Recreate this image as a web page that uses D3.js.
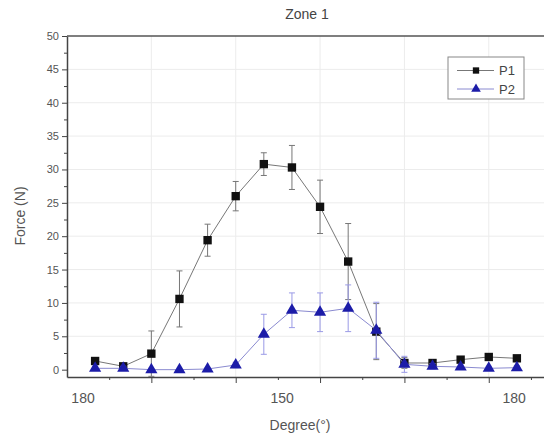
<!DOCTYPE html>
<html>
<head>
<meta charset="utf-8">
<script src="https://cdn.jsdelivr.net/npm/d3@7"></script>
<style>
  body { margin: 0; background: #fff; }
  text { font-family: "Liberation Sans", Arial, sans-serif; }
</style>
</head>
<body>
<div id="chart"></div>
<script>
// Point positions along the sweep (index 0..15)
const positions = d3.range(16);

// P1 mean force and error
const p1Values = [1.3, 0.5, 2.4, 10.6, 19.4, 26.0, 30.8, 30.3, 24.4, 16.2, 5.7, 1.0, 1.0, 1.5, 1.9, 1.7];
const p1Errors = [0.5, 0.3, 3.4, 4.2, 2.4, 2.2, 1.7, 3.3, 4.0, 5.7, 4.2, 0.8, 0.3, 0.3, 0.3, 0.3];

// P2 mean force and error
const p2Values = [0.2, 0.2, 0.0, 0.0, 0.1, 0.7, 5.3, 8.9, 8.6, 9.2, 5.9, 0.8, 0.5, 0.4, 0.2, 0.3];
const p2Errors = [0.3, 0.3, 0.2, 0.2, 0.2, 0.4, 3.0, 2.6, 2.9, 3.5, 4.2, 1.2, 0.4, 0.3, 0.3, 0.3];

// Axis ticks and labels
const xMajorTicks = [2, 5, 8, 11, 14];
const xMinorTicks = [0.5, 3.5, 6.5, 9.5, 12.5, 15.5];
const xLabels = [[-0.43, "180"], [6.65, "150"], [14.9, "180"]];
const yMajorTicks = d3.range(0, 51, 5);
const yMinorTicks = d3.range(2.5, 50, 5);

const width = 544, height = 436;

const svg = d3.select("#chart")
  .append("svg")
  .attr("width", width)
  .attr("height", height);

// Scales
const x = d3.scaleLinear().domain([-1, 16]).range([67, 545]);
const y = d3.scaleLinear().domain([-1.1, 50]).range([377, 36]);

// Grid lines
svg.selectAll(".hgrid")
  .data(yMajorTicks.filter(d => d > 0 && d < 50))
  .join("line")
  .attr("x1", x(-1)).attr("x2", width)
  .attr("y1", d => y(d)).attr("y2", d => y(d))
  .attr("stroke", "#ececec").attr("stroke-width", 1);

svg.selectAll(".vgrid")
  .data(xMajorTicks)
  .join("line")
  .attr("x1", d => x(d)).attr("x2", d => x(d))
  .attr("y1", y(50)).attr("y2", y(-1.1))
  .attr("stroke", "#ececec").attr("stroke-width", 1);

// Y axis with major ticks outward
const yAxis = svg.append("g")
  .attr("transform", `translate(${x(-1)},0)`)
  .call(d3.axisLeft(y).tickValues(yMajorTicks).tickSize(5).tickPadding(3).tickSizeOuter(0));
yAxis.select(".domain").attr("stroke", "#444").attr("stroke-width", 1.5);
yAxis.selectAll(".tick line").attr("stroke", "#444");
yAxis.selectAll("text").attr("fill", "#555").style("font-size", "11px");

svg.append("g")
  .attr("transform", `translate(${x(-1)},0)`)
  .call(d3.axisLeft(y).tickValues(yMinorTicks).tickSize(3).tickFormat(""))
  .call(g => g.select(".domain").remove())
  .selectAll(".tick line").attr("stroke", "#444");

// X axis
const xAxis = svg.append("g")
  .attr("transform", `translate(0,${y(-1.1)})`)
  .call(d3.axisBottom(x).tickValues(xMajorTicks).tickSize(6).tickFormat("").tickSizeOuter(0));
xAxis.select(".domain").attr("stroke", "#444").attr("stroke-width", 1.5);
xAxis.selectAll(".tick line").attr("stroke", "#444");

svg.append("g")
  .attr("transform", `translate(0,${y(-1.1)})`)
  .call(d3.axisBottom(x).tickValues(xMinorTicks).tickSize(3).tickFormat(""))
  .call(g => g.select(".domain").remove())
  .selectAll(".tick line").attr("stroke", "#444");

svg.selectAll(".xlabel")
  .data(xLabels)
  .join("text")
  .attr("x", d => x(d[0]))
  .attr("y", 403)
  .attr("text-anchor", "middle")
  .attr("fill", "#555")
  .style("font-size", "14px")
  .text(d => d[1]);

// Top frame
svg.append("line")
  .attr("x1", x(-1)).attr("x2", width)
  .attr("y1", y(50)).attr("y2", y(50))
  .attr("stroke", "#555").attr("stroke-width", 1.5);

// Titles
svg.append("text")
  .attr("x", 307).attr("y", 19)
  .attr("text-anchor", "middle")
  .attr("fill", "#444")
  .style("font-size", "14px")
  .text("Zone 1");

svg.append("text")
  .attr("x", 300).attr("y", 430)
  .attr("text-anchor", "middle")
  .attr("fill", "#555")
  .style("font-size", "14px")
  .text("Degree(°)");

svg.append("text")
  .attr("transform", "translate(25,216) rotate(-90)")
  .attr("text-anchor", "middle")
  .attr("fill", "#555")
  .style("font-size", "14px")
  .text("Force  (N)");

// Series drawing
function drawSeries(values, errors, lineColor, errColor, markerColor, symbol, size) {
  const pts = positions.map(i => ({ i, v: values[i], e: errors[i] }));
  const g = svg.append("g");

  g.append("path")
    .datum(pts)
    .attr("fill", "none")
    .attr("stroke", lineColor)
    .attr("stroke-width", 1)
    .attr("d", d3.line().x(d => x(d.i)).y(d => y(d.v)));

  const eb = g.selectAll(".err").data(pts).join("g").attr("stroke", errColor).attr("stroke-width", 1);
  eb.append("line")
    .attr("x1", d => x(d.i)).attr("x2", d => x(d.i))
    .attr("y1", d => y(d.v - d.e)).attr("y2", d => y(d.v + d.e));
  eb.append("line")
    .attr("x1", d => x(d.i) - 3).attr("x2", d => x(d.i) + 3)
    .attr("y1", d => y(d.v + d.e)).attr("y2", d => y(d.v + d.e));
  eb.append("line")
    .attr("x1", d => x(d.i) - 3).attr("x2", d => x(d.i) + 3)
    .attr("y1", d => y(d.v - d.e)).attr("y2", d => y(d.v - d.e));

  g.selectAll(".mk").data(pts).join("path")
    .attr("transform", d => `translate(${x(d.i)},${y(d.v)})`)
    .attr("d", d3.symbol().type(symbol).size(size))
    .attr("fill", markerColor);
}

drawSeries(p1Values, p1Errors, "#777", "#777", "#111", d3.symbolSquare, 70);
drawSeries(p2Values, p2Errors, "#8a8ad0", "#9a9ae6", "#1c1ca8", d3.symbolTriangle, 64);

// Legend
const legend = svg.append("g");
legend.append("rect")
  .attr("x", 448).attr("y", 57).attr("width", 76).attr("height", 42)
  .attr("fill", "#fff").attr("stroke", "#888").attr("stroke-width", 1);

const legendItems = [
  { name: "P1", line: "#777", color: "#111", symbol: d3.symbolSquare, size: 40, yPos: 70.5 },
  { name: "P2", line: "#8a8ad0", color: "#1c1ca8", symbol: d3.symbolTriangle, size: 40, yPos: 89 }
];
legendItems.forEach(d => {
  legend.append("line")
    .attr("x1", 457).attr("x2", 494)
    .attr("y1", d.yPos).attr("y2", d.yPos)
    .attr("stroke", d.line).attr("stroke-width", 1);
  legend.append("path")
    .attr("transform", `translate(476,${d.yPos})`)
    .attr("d", d3.symbol().type(d.symbol).size(d.size))
    .attr("fill", d.color);
  legend.append("text")
    .attr("x", 499).attr("y", d.yPos + 4.5)
    .attr("fill", "#444")
    .style("font-size", "13px")
    .text(d.name);
});
</script>
</body>
</html>
